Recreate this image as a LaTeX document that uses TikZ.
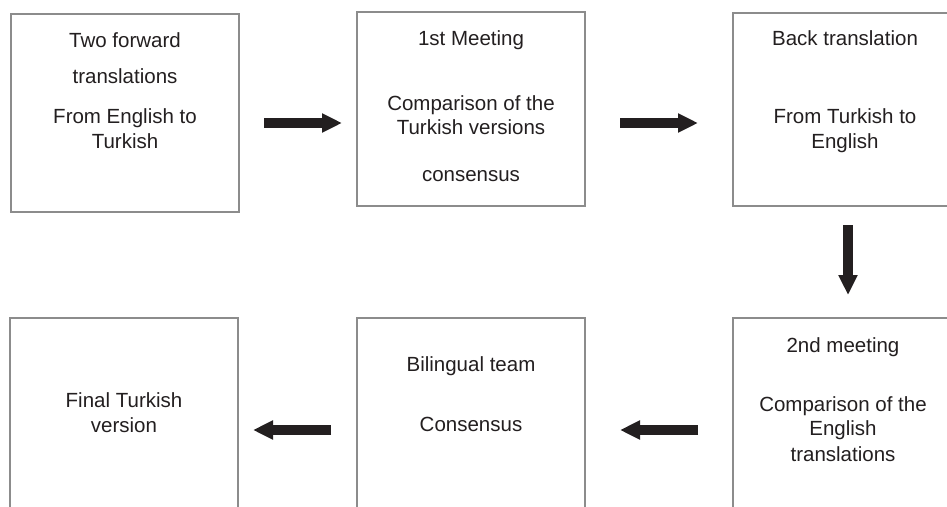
\documentclass[tikz,border=0pt]{standalone}
\usepackage{fontspec}
\setmainfont{Liberation Sans}
\usetikzlibrary{arrows.meta}
\definecolor{boxgray}{HTML}{8C8C8C}
\definecolor{ink}{HTML}{231F20}
\begin{document}
\begin{tikzpicture}[x=1pt,y=-1pt,
  box/.style={draw=boxgray, line width=1.5pt, inner sep=0pt, minimum width=228pt},
  txt/.style={anchor=base, inner sep=0pt, text=ink, font=\fontsize{20.5}{24}\selectfont},
  bigarrow/.style={draw=ink, line width=10pt, -{Triangle[width=18pt,length=20pt]}}]
\useasboundingbox (0,0) rectangle (947,506);
\clip (0,0) rectangle (947,506);
\fill[white] (0,0) rectangle (947,506);
% top row
\node[box, minimum height=198pt] (b1) at (125,113) {};
\node[box, minimum height=194pt] (b2) at (471,109) {};
\node[box, minimum height=193pt] (b3) at (847,109.5) {};
% bottom row (cut by the lower edge)
\node[box, minimum height=200pt] (b4) at (124,418) {};
\node[box, minimum height=200pt] (b5) at (471,418) {};
\node[box, minimum height=200pt] (b6) at (847,418) {};
% texts
\node[txt] (t1a) at (125,47) {Two forward};
\node[txt] (t1b) at (125,83) {translations};
\node[txt] (t1c) at (125,123) {From English to};
\node[txt] (t1d) at (125,148) {Turkish};
\node[txt] (t2a) at (471,45) {1st Meeting};
\node[txt] (t2b) at (471,110) {Comparison of the};
\node[txt] (t2c) at (471,134) {Turkish versions};
\node[txt] (t2d) at (471,181) {consensus};
\node[txt] (t3a) at (845,45) {Back translation};
\node[txt] (t3b) at (845,123) {From Turkish to};
\node[txt] (t3c) at (845,148) {English};
\node[txt] (t4a) at (124,407) {Final Turkish};
\node[txt] (t4b) at (124,432) {version};
\node[txt] (t5a) at (471,371) {Bilingual team};
\node[txt] (t5b) at (471,431) {Consensus};
\node[txt] (t6a) at (843,352) {2nd meeting};
\node[txt] (t6b) at (843,411) {Comparison of the};
\node[txt] (t6c) at (843,435) {English};
\node[txt] (t6d) at (843,461) {translations};
% arrow ends
\coordinate (a1s) at (264,123); \coordinate (a1e) at (342,123);
\coordinate (a2s) at (620,123); \coordinate (a2e) at (698,123);
\coordinate (a3s) at (848,225); \coordinate (a3e) at (848,295);
\coordinate (a4s) at (698,430); \coordinate (a4e) at (620,430);
\coordinate (a5s) at (331,430); \coordinate (a5e) at (253,430);
\draw[bigarrow] (a1s) -- (a1e);
\draw[bigarrow] (a2s) -- (a2e);
\draw[bigarrow] (a3s) -- (a3e);
\draw[bigarrow] (a4s) -- (a4e);
\draw[bigarrow] (a5s) -- (a5e);
\end{tikzpicture}
\end{document}
